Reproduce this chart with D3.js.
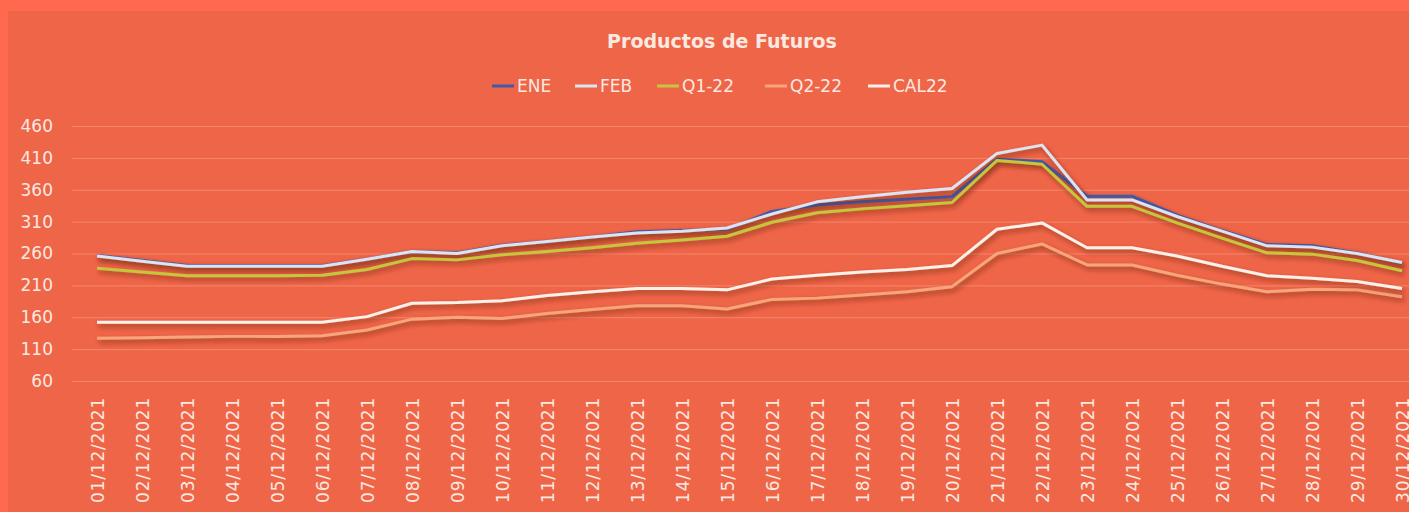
<!DOCTYPE html>
<html>
<head>
<meta charset="utf-8">
<script src="https://cdn.jsdelivr.net/npm/d3@7"></script>
<style>
	html, body { margin: 0; padding: 0; background: #ff6a4e; }
	svg { display: block; }
	text { font-family: "DejaVu Sans", sans-serif; fill: #fbe9e1; }
</style>
</head>
<body>
<svg id="chart" width="1409" height="512"></svg>
<script>
var dates = ["01/12/2021","02/12/2021","03/12/2021","04/12/2021","05/12/2021","06/12/2021","07/12/2021","08/12/2021","09/12/2021","10/12/2021",
	"11/12/2021","12/12/2021","13/12/2021","14/12/2021","15/12/2021","16/12/2021","17/12/2021","18/12/2021","19/12/2021","20/12/2021",
	"21/12/2021","22/12/2021","23/12/2021","24/12/2021","25/12/2021","26/12/2021","27/12/2021","28/12/2021","29/12/2021","30/12/2021"];

var ene  = [257, 249, 241, 241, 241, 241, 251, 263, 261, 273, 279, 286, 294, 296, 298, 326, 336, 341, 345, 349, 408, 404, 350, 350, 320, 296, 274, 272, 261, 245];
var feb  = [256, 248, 240, 240, 240, 240, 251, 263, 260, 272, 279, 286, 292, 295, 300, 322, 341, 349, 356, 362, 417, 430, 344, 344, 318, 295, 272, 270, 260, 246];
var q122 = [237, 231, 225, 225, 225, 226, 235, 252, 250, 258, 263, 269, 276, 281, 287, 309, 324, 330, 335, 340, 406, 400, 334, 334, 308, 284, 261, 259, 249, 233];
var q222 = [127, 128, 129, 130, 130, 131, 140, 157, 160, 158, 166, 172, 178, 178, 173, 188, 190, 195, 200, 208, 260, 275, 242, 242, 226, 212, 200, 204, 203, 192];
var cal22 = [152, 152, 152, 152, 152, 152, 161, 182, 183, 186, 194, 200, 205, 205, 203, 220, 226, 231, 235, 241, 298, 308, 269, 269, 256, 240, 225, 221, 216, 205];

var seriesNames = ["ENE", "FEB", "Q1-22", "Q2-22", "CAL22"];
var seriesColors = ["#3f5aa8", "#dae4f3", "#c6c63e", "#f7a57a", "#fdf1ea"];
var yTicks = [60, 110, 160, 210, 260, 310, 360, 410, 460];

var series = [ene, feb, q122, q222, cal22].map(function (v, i) {
	return { name: seriesNames[i], color: seriesColors[i], values: v };
});

var svg = d3.select("#chart");

// frame + plot background
svg.append("rect").attr("width", 1409).attr("height", 512).attr("fill", "#ff6a4e");
svg.append("rect").attr("x", 8).attr("y", 11).attr("width", 1401).attr("height", 501).attr("fill", "#ef6548");

var defs = svg.append("defs");
var f = defs.append("filter").attr("id", "shadow")
	.attr("x", "-5%").attr("y", "-20%").attr("width", "110%").attr("height", "140%");
f.append("feDropShadow")
	.attr("dx", 2).attr("dy", 3).attr("stdDeviation", 2.5)
	.attr("flood-color", "#5a1e10").attr("flood-opacity", 0.6);

var x = d3.scalePoint().domain(dates).range([74.5, 1424.5]).padding(0.5),
	y = d3.scaleLinear().domain([60, 460]).range([381, 126]);

// gridlines
svg.append("g").selectAll("line")
	.data(yTicks)
	.enter().append("line")
	.attr("x1", 72).attr("x2", 1409)
	.attr("y1", function (d) { return y(d) + 0.5; })
	.attr("y2", function (d) { return y(d) + 0.5; })
	.attr("stroke", "#f5876c").attr("stroke-width", 1);

// y axis labels
var yAxis = d3.axisLeft(y).tickValues(yTicks).tickSize(0).tickPadding(0);
svg.append("g")
	.attr("transform", "translate(53,0)")
	.call(yAxis)
	.call(function (g) { g.select(".domain").remove(); })
	.selectAll("text")
	.attr("font-size", 17)
	.attr("font-family", "DejaVu Sans, sans-serif")
	.style("fill", "#fbe9e1");

// x axis labels (rotated, cut by the bottom edge like the original)
var xAxis = d3.axisBottom(x).tickSize(0).tickPadding(0);
svg.append("g")
	.attr("transform", "translate(0,397)")
	.call(xAxis)
	.call(function (g) { g.select(".domain").remove(); })
	.selectAll("text")
	.attr("font-size", 17)
	.attr("letter-spacing", 0.8)
	.attr("font-family", "DejaVu Sans, sans-serif")
	.style("fill", "#fbe9e1")
	.attr("text-anchor", "end")
	.attr("transform", "rotate(-90)")
	.attr("x", 0)
	.attr("y", 0)
	.attr("dy", "0.36em");

// lines
var line = d3.line()
	.x(function (d, i) { return x(dates[i]); })
	.y(function (d) { return y(d); });

svg.append("g").selectAll("path")
	.data(series)
	.enter().append("path")
	.attr("d", function (d) { return line(d.values); })
	.attr("fill", "none")
	.attr("stroke", function (d) { return d.color; })
	.attr("stroke-width", 3)
	.attr("stroke-linejoin", "round")
	.attr("filter", "url(#shadow)");

// title
svg.append("text")
	.attr("x", 722).attr("y", 48)
	.attr("text-anchor", "middle")
	.attr("font-family", "Open Sans, sans-serif")
	.attr("font-weight", "bold")
	.attr("font-size", 19)
	.text("Productos de Futuros");

// legend
var legendX = [492, 575, 657, 765, 868];
var legend = svg.append("g").selectAll("g")
	.data(series)
	.enter().append("g")
	.attr("transform", function (d, i) { return "translate(" + legendX[i] + ",86)"; });

legend.append("line")
	.attr("x1", 0).attr("x2", 22)
	.attr("stroke", function (d) { return d.color; })
	.attr("stroke-width", 3);

legend.append("text")
	.attr("x", 25).attr("dy", "0.36em")
	.attr("font-family", "Open Sans, sans-serif")
	.attr("font-size", 17)
	.text(function (d) { return d.name; });
</script>
</body>
</html>
